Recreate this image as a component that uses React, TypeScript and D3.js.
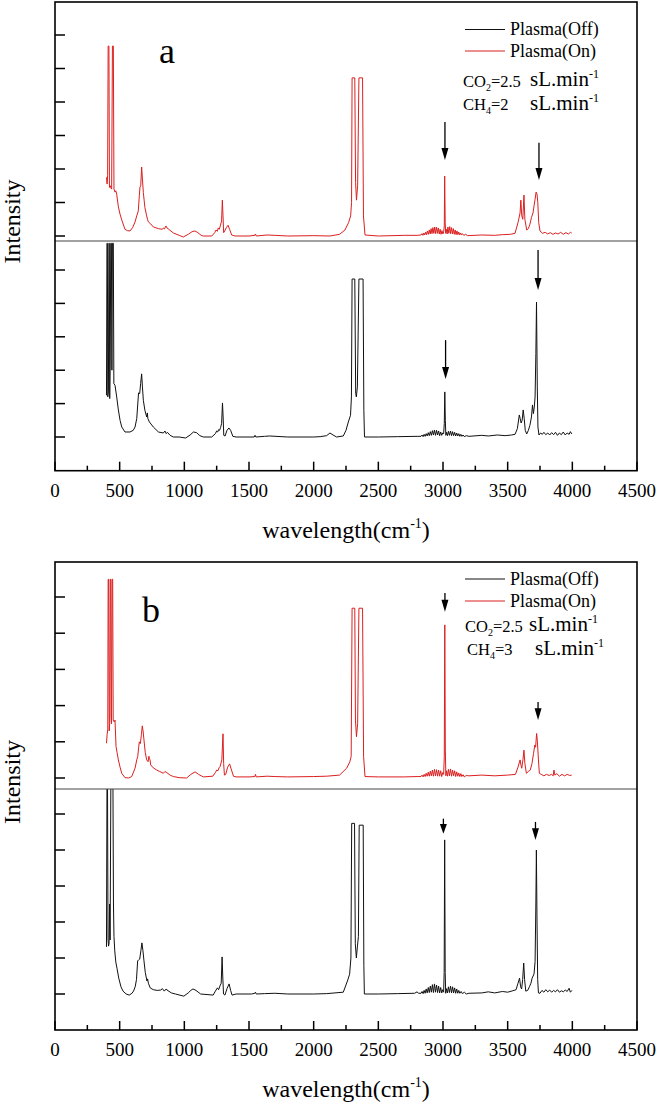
import React from 'react';
import * as d3 from 'd3';

type Pt = [number, number];
type Arrow = { x: number; from: number; to: number };

// x: wavenumber (cm-1), y: intensity in units of one y tick
const xMajor = [0, 500, 1000, 1500, 2000, 2500, 3000, 3500, 4000, 4500];
const xMinor = [250, 750, 1250, 1750, 2250, 2750, 3250, 3750, 4250];

// panel a, plasma on (red, upper)
const onA: Pt[] = [
  [398, 1.75], [403, 1.55], [407, 1.8], [411, 5.67], [417, 5.67], [421, 1.45], [428, 1.5], [433, 1.43], [438, 1.4],
  [444, 5.67], [451, 5.67], [456, 1.4], [464, 1.31], [470, 1.35], [477, 1.25], [490, 0.87], [503, 0.65], [516, 0.48],
  [541, 0.2], [560, 0.16], [580, 0.15], [600, 0.25], [619, 0.42], [632, 0.6], [644, 0.75], [652, 1.2], [657, 1.46],
  [663, 1.5], [670, 2.06], [676, 1.7], [683, 1.3], [695, 0.85], [709, 0.6], [715, 0.5], [722, 0.42], [740, 0.36],
  [760, 0.27], [800, 0.22], [830, 0.2], [838, 0.24], [846, 0.21], [858, 0.3], [866, 0.24], [880, 0.2], [915, 0.09],
  [960, 0.02], [992, -0.03], [1030, 0.05], [1060, 0.13], [1083, 0.15], [1105, 0.1], [1130, 0.02], [1147, 0.0],
  [1212, 0.0], [1235, 0.1], [1245, 0.18], [1255, 0.14], [1262, 0.24], [1270, 0.2], [1278, 0.3], [1288, 0.45],
  [1294, 1.07], [1299, 0.6], [1304, 0.1], [1312, 0.15], [1325, 0.25], [1338, 0.32], [1350, 0.2], [1366, 0.03],
  [1392, 0.0], [1500, 0.0], [1545, 0.02], [1550, 0.06], [1556, 0.0], [1640, 0.03], [1700, 0.02], [1800, 0.0],
  [2000, 0.01], [2126, 0.0], [2200, 0.05], [2242, 0.18], [2270, 0.4], [2286, 0.6], [2293, 1.0], [2297, 4.72],
  [2318, 4.72], [2324, 1.6], [2331, 1.07], [2340, 1.5], [2350, 4.72], [2378, 4.72], [2385, 0.6], [2397, 0.03],
  [2500, 0.0], [2700, 0.02], [2800, 0.02],
  [2830, 0.03], [2838, 0.07], [2845, 0.02], [2852, 0.09], [2859, 0.03], [2866, 0.12], [2873, 0.04], [2880, 0.15],
  [2887, 0.05], [2894, 0.18], [2901, 0.06], [2908, 0.22], [2915, 0.07], [2922, 0.25], [2929, 0.08], [2936, 0.27],
  [2943, 0.07], [2950, 0.26], [2957, 0.08], [2964, 0.24], [2971, 0.06], [2978, 0.2], [2985, 0.05], [2992, 0.16],
  [2999, 0.06], [3005, 0.12], [3010, 0.3], [3013, 1.79], [3017, 0.4], [3021, 0.08], [3026, 0.2], [3032, 0.06],
  [3038, 0.27], [3045, 0.08], [3052, 0.28], [3059, 0.07], [3066, 0.25], [3073, 0.06], [3080, 0.22], [3087, 0.05],
  [3094, 0.18], [3101, 0.04], [3108, 0.15], [3115, 0.04], [3122, 0.12], [3129, 0.03], [3136, 0.09], [3143, 0.03],
  [3150, 0.07], [3160, 0.02], [3175, 0.05], [3190, 0.01],
  [3300, 0.03], [3400, 0.02], [3460, 0.04], [3520, 0.05], [3557, 0.08], [3580, 0.4], [3596, 0.69], [3602, 1.07],
  [3609, 0.6], [3617, 0.5], [3626, 1.22], [3633, 0.5], [3647, 0.18], [3660, 0.22], [3672, 0.35], [3684, 0.55],
  [3696, 0.69], [3704, 0.9], [3712, 1.1], [3720, 1.31], [3727, 1.25], [3733, 1.0], [3740, 0.4], [3750, 0.15],
  [3770, 0.08], [3790, 0.11], [3810, 0.06], [3830, 0.1], [3850, 0.05], [3870, 0.09], [3890, 0.06], [3910, 0.11],
  [3930, 0.05], [3950, 0.1], [3970, 0.06], [3985, 0.11], [3995, 0.09],
];

// panel a, plasma off (black, lower)
const offA: Pt[] = [
  [398, 1.25], [402, 5.8], [405, 5.8], [408, 1.2], [413, 1.35], [417, 5.8], [420, 5.8], [423, 1.15], [427, 2.25],
  [431, 5.8], [436, 5.8], [440, 2.0], [444, 5.8], [451, 5.8], [455, 1.6], [464, 1.55], [477, 1.2], [490, 0.81],
  [503, 0.5], [516, 0.3], [541, 0.15], [580, 0.15], [605, 0.2], [619, 0.3], [632, 0.55], [646, 1.32], [655, 1.3],
  [662, 1.6], [670, 1.89], [676, 1.5], [683, 1.1], [695, 0.8], [709, 0.6], [714, 0.72], [718, 0.55], [730, 0.45],
  [760, 0.3], [800, 0.15], [838, 0.12], [850, 0.18], [860, 0.1], [869, 0.14], [890, 0.05], [915, 0.0], [960, 0.0],
  [1010, -0.03], [1045, 0.06], [1070, 0.15], [1095, 0.13], [1120, 0.04], [1147, 0.0], [1212, 0.0], [1240, 0.1],
  [1250, 0.18], [1258, 0.15], [1265, 0.22], [1272, 0.2], [1280, 0.28], [1288, 0.4], [1295, 1.02], [1300, 0.6],
  [1305, 0.05], [1315, 0.03], [1330, 0.2], [1345, 0.27], [1358, 0.2], [1375, 0.02], [1400, 0.0], [1540, 0.0],
  [1547, 0.05], [1553, 0.0], [1620, 0.02], [1660, 0.03], [1800, 0.0], [2000, 0.0], [2050, 0.01], [2100, 0.04],
  [2126, 0.12], [2150, 0.06], [2177, 0.0], [2229, 0.03], [2250, 0.2], [2268, 0.45], [2285, 0.65], [2292, 1.2],
  [2297, 4.73], [2318, 4.73], [2325, 1.3], [2330, 1.2], [2338, 1.5], [2350, 4.73], [2382, 4.73], [2388, 0.8],
  [2393, 0.0], [2500, 0.0], [2650, 0.01], [2800, 0.02],
  [2830, 0.02], [2838, 0.06], [2846, 0.01], [2854, 0.08], [2862, 0.02], [2870, 0.1], [2878, 0.03], [2886, 0.13],
  [2894, 0.04], [2902, 0.16], [2910, 0.05], [2918, 0.19], [2926, 0.06], [2934, 0.21], [2942, 0.05], [2950, 0.2],
  [2958, 0.06], [2966, 0.18], [2974, 0.04], [2982, 0.15], [2990, 0.05], [2998, 0.12], [3005, 0.1], [3010, 0.4],
  [3014, 1.35], [3018, 0.5], [3022, 0.05], [3028, 0.14], [3035, 0.04], [3042, 0.17], [3050, 0.05], [3058, 0.18],
  [3066, 0.04], [3074, 0.16], [3082, 0.04], [3090, 0.14], [3098, 0.03], [3106, 0.12], [3114, 0.03], [3122, 0.1],
  [3130, 0.02], [3138, 0.08], [3146, 0.02], [3155, 0.06], [3165, 0.01], [3180, 0.04],
  [3200, 0.02], [3300, 0.05], [3350, 0.03], [3420, 0.06], [3480, 0.04], [3530, 0.06], [3557, 0.08], [3575, 0.25],
  [3590, 0.66], [3597, 0.55], [3604, 0.42], [3612, 0.5], [3620, 0.81], [3628, 0.55], [3636, 0.2], [3647, 0.09],
  [3660, 0.2], [3672, 0.35], [3684, 0.6], [3692, 0.96], [3699, 0.7], [3706, 0.9], [3712, 1.2], [3718, 2.5],
  [3723, 4.04], [3729, 1.5], [3734, 0.3], [3742, 0.06], [3755, 0.12], [3768, 0.08], [3780, 0.14], [3795, 0.07],
  [3810, 0.12], [3825, 0.06], [3840, 0.13], [3855, 0.07], [3870, 0.14], [3885, 0.05], [3900, 0.12], [3915, 0.07],
  [3930, 0.15], [3945, 0.06], [3960, 0.12], [3975, 0.08], [3985, 0.16], [3995, 0.09],
];

// panel b, plasma on (red, upper)
const onB: Pt[] = [
  [398, 0.96], [403, 1.2], [408, 1.35], [411, 5.49], [415, 5.49], [419, 1.3], [423, 1.51], [427, 5.49], [431, 5.49],
  [434, 1.69], [437, 1.5], [441, 5.49], [446, 5.49], [450, 1.6], [458, 1.55], [464, 1.6], [472, 0.87], [480, 0.7],
  [490, 0.5], [503, 0.3], [516, 0.13], [541, 0.01], [570, 0.0], [593, 0.04], [619, 0.27], [632, 0.5], [640, 0.6],
  [647, 0.85], [652, 1.0], [660, 0.95], [668, 1.2], [675, 1.44], [681, 1.3], [688, 1.05], [698, 0.7], [709, 0.5],
  [720, 0.45], [726, 0.6], [730, 0.54], [735, 0.5], [740, 0.36], [760, 0.28], [786, 0.22], [810, 0.18], [838, 0.13],
  [850, 0.18], [864, 0.15], [890, 0.08], [915, 0.04], [960, 0.01], [1018, 0.0], [1050, 0.1], [1083, 0.17],
  [1110, 0.1], [1147, 0.03], [1220, 0.05], [1240, 0.15], [1250, 0.22], [1260, 0.2], [1268, 0.28], [1276, 0.31],
  [1290, 0.5], [1299, 1.22], [1304, 0.4], [1310, 0.08], [1320, 0.1], [1335, 0.3], [1350, 0.39], [1362, 0.25],
  [1380, 0.05], [1400, 0.03], [1500, 0.03], [1545, 0.04], [1550, 0.1], [1556, 0.03], [1640, 0.05], [1700, 0.04],
  [1800, 0.03], [2000, 0.04], [2100, 0.05], [2200, 0.08], [2255, 0.27], [2280, 0.45], [2290, 0.6], [2297, 4.69],
  [2318, 4.69], [2323, 1.6], [2331, 1.14], [2340, 1.5], [2350, 4.69], [2378, 4.69], [2386, 0.6], [2397, 0.04],
  [2500, 0.03], [2700, 0.03], [2800, 0.04],
  [2830, 0.04], [2838, 0.08], [2846, 0.03], [2854, 0.1], [2862, 0.04], [2870, 0.13], [2878, 0.05], [2886, 0.16],
  [2894, 0.05], [2902, 0.19], [2910, 0.06], [2918, 0.22], [2926, 0.05], [2934, 0.24], [2942, 0.06], [2950, 0.23],
  [2958, 0.05], [2966, 0.22], [2974, 0.05], [2982, 0.2], [2990, 0.04], [2998, 0.15], [3005, 0.1], [3010, 0.6],
  [3014, 4.23], [3018, 0.8], [3022, 0.06], [3028, 0.2], [3035, 0.05], [3042, 0.24], [3050, 0.06], [3058, 0.25],
  [3066, 0.05], [3074, 0.22], [3082, 0.06], [3090, 0.2], [3098, 0.04], [3106, 0.17], [3114, 0.05], [3122, 0.14],
  [3130, 0.04], [3138, 0.12], [3146, 0.04], [3155, 0.09], [3165, 0.03], [3180, 0.07],
  [3200, 0.06], [3300, 0.08], [3400, 0.06], [3500, 0.08], [3560, 0.1], [3580, 0.3], [3596, 0.5], [3603, 0.35],
  [3609, 0.27], [3618, 0.5], [3626, 0.77], [3633, 0.4], [3645, 0.13], [3660, 0.18], [3675, 0.22], [3688, 0.4],
  [3700, 0.68], [3710, 0.91], [3716, 0.85], [3724, 1.23], [3730, 1.0], [3738, 0.5], [3745, 0.13], [3760, 0.1],
  [3780, 0.06], [3800, 0.1], [3820, 0.07], [3840, 0.1], [3852, 0.06], [3858, 0.22], [3865, 0.08], [3880, 0.12],
  [3900, 0.05], [3920, 0.1], [3940, 0.06], [3960, 0.1], [3980, 0.07], [3995, 0.08],
];

// panel b, plasma off (black, lower)
const offB: Pt[] = [
  [398, 1.31], [402, 5.9], [406, 5.9], [410, 1.53], [414, 1.33], [418, 1.4], [422, 2.5], [426, 1.5], [432, 5.9],
  [448, 5.9], [452, 2.5], [456, 1.6], [462, 1.2], [470, 0.89], [480, 0.7], [493, 0.44], [510, 0.2], [526, 0.08],
  [550, 0.0], [574, -0.03], [595, 0.02], [607, 0.08], [620, 0.2], [630, 0.4], [639, 0.92], [647, 0.95], [655, 0.97],
  [664, 1.2], [672, 1.42], [680, 1.2], [688, 0.92], [698, 0.6], [711, 0.36], [716, 0.42], [722, 0.3], [736, 0.17],
  [760, 0.12], [790, 0.1], [818, 0.11], [830, 0.15], [845, 0.08], [860, 0.14], [866, 0.11], [900, 0.03], [931, 0.0],
  [996, -0.06], [1030, 0.03], [1050, 0.1], [1067, 0.14], [1090, 0.1], [1126, 0.0], [1223, -0.03], [1240, 0.08],
  [1256, 0.17], [1265, 0.12], [1275, 0.22], [1285, 0.3], [1292, 1.03], [1297, 0.5], [1303, 0.0], [1314, -0.03],
  [1330, 0.15], [1346, 0.28], [1358, 0.1], [1369, -0.03], [1400, 0.0], [1520, 0.0], [1545, 0.02], [1550, 0.05],
  [1556, 0.0], [1620, 0.01], [1700, 0.02], [1800, 0.0], [2000, 0.0], [2100, 0.01], [2229, 0.05], [2261, 0.36],
  [2278, 0.55], [2288, 1.0], [2294, 4.74], [2316, 4.74], [2322, 1.4], [2330, 1.0], [2338, 1.31], [2346, 1.6],
  [2352, 4.69], [2383, 4.69], [2388, 0.8], [2392, 0.0], [2500, 0.0], [2650, 0.01], [2780, 0.02], [2800, 0.06],
  [2810, 0.02],
  [2830, 0.02], [2838, 0.07], [2846, 0.01], [2854, 0.1], [2862, 0.02], [2870, 0.14], [2878, 0.03], [2886, 0.18],
  [2894, 0.04], [2902, 0.22], [2910, 0.05], [2918, 0.26], [2926, 0.04], [2934, 0.28], [2942, 0.05], [2950, 0.25],
  [2958, 0.04], [2966, 0.22], [2974, 0.03], [2982, 0.18], [2990, 0.03], [2998, 0.12], [3005, 0.05], [3009, 0.6],
  [3013, 4.28], [3017, 0.6], [3021, 0.02], [3028, 0.15], [3035, 0.03], [3042, 0.2], [3050, 0.04], [3058, 0.22],
  [3066, 0.03], [3074, 0.2], [3082, 0.03], [3090, 0.17], [3098, 0.02], [3106, 0.14], [3114, 0.02], [3122, 0.1],
  [3130, 0.02], [3140, 0.07], [3150, 0.01], [3165, 0.05], [3180, 0.0],
  [3200, 0.02], [3300, 0.03], [3350, 0.06], [3400, 0.03], [3460, 0.07], [3500, 0.05], [3540, 0.09], [3565, 0.12],
  [3580, 0.3], [3592, 0.44], [3600, 0.2], [3608, 0.14], [3616, 0.4], [3624, 0.86], [3631, 0.4], [3640, 0.08],
  [3655, 0.1], [3668, 0.2], [3680, 0.3], [3689, 0.44], [3697, 0.5], [3704, 0.56], [3712, 0.9], [3718, 2.5],
  [3722, 4.0], [3727, 2.0], [3732, 0.4], [3738, 0.03], [3750, 0.02], [3765, 0.1], [3780, 0.05], [3795, 0.12],
  [3810, 0.06], [3825, 0.11], [3840, 0.05], [3855, 0.1], [3870, 0.06], [3885, 0.12], [3900, 0.05], [3915, 0.09],
  [3930, 0.06], [3945, 0.11], [3960, 0.07], [3975, 0.16], [3985, 0.05], [3997, 0.1],
];

// arrow annotations (x in cm-1, from/to in y units of their sub-plot)
const arrowsOnA: Arrow[] = [{ x: 3015, from: 3.4, to: 2.27 }, { x: 3742, from: 2.78, to: 1.67 }];
const arrowsOffA: Arrow[] = [{ x: 3020, from: 2.9, to: 1.74 }, { x: 3735, from: 5.6, to: 4.4 }];
const arrowsOnB: Arrow[] = [{ x: 3015, from: 5.11, to: 4.59 }, { x: 3735, from: 2.1, to: 1.6 }];
const arrowsOffB: Arrow[] = [{ x: 3003, from: 4.87, to: 4.45 }, { x: 3715, from: 4.78, to: 4.28 }];

const legendNames = ['Plasma(Off)', 'Plasma(On)'];
const co2Flow = '2.5';
const ch4Flows = ['2', '3'];

const RED = '#dc1f1f';
const FONT = '"Liberation Serif", "Times New Roman", serif';
const X0 = 55;
const X1 = 637;

const xScale = d3.scaleLinear().domain([0, 4500]).range([X0, X1]);

const panels = [
  {
    key: 'a', on: onA, off: offA, arrowsOn: arrowsOnA, arrowsOff: arrowsOffA, ch4: ch4Flows[0],
    top: 2, mid: 241, bottom: 470.7,
    up: { base: 236, tick: 35, max: 6 }, low: { base: 437, tick: 270, max: 5 },
    label: { x: 159, y: 63 }, leg: { y0: 29.5, y1: 51, t0: 34.5, t1: 57 },
    gas: { x1: 463, x2: 463, u1: 530, u2: 530, y1: 87, y2: 110, uy1: 86, uy2: 110 },
    ylab: 221.5,
  },
  {
    key: 'b', on: onB, off: offB, arrowsOn: arrowsOnB, arrowsOff: arrowsOffB, ch4: ch4Flows[1],
    top: 562, mid: 789, bottom: 1030,
    up: { base: 778, tick: 597, max: 5 }, low: { base: 994, tick: 814, max: 5 },
    label: { x: 142, y: 622 }, leg: { y0: 579, y1: 601, t0: 585, t1: 607 },
    gas: { x1: 465, x2: 467, u1: 529, u2: 535, y1: 632, y2: 655, uy1: 631, uy2: 655 },
    ylab: 782,
  },
];

function Arrows({ items, y }: { items: Arrow[]; y: d3.ScaleLinear<number, number> }) {
  return (
    <g>
      {items.map((a, i) => {
        const x = xScale(a.x);
        const y0 = y(a.from);
        const y1 = y(a.to);
        const head = Math.min(12, (y1 - y0) * 0.65);
        return (
          <g key={i}>
            <line x1={x} x2={x} y1={y0} y2={y1 - head + 1} stroke="#000" strokeWidth={1.3} />
            <path d={`M${x - 3.5},${y1 - head}L${x + 3.5},${y1 - head}L${x},${y1}Z`} fill="#000" />
          </g>
        );
      })}
    </g>
  );
}

function Panel({ p }: { p: (typeof panels)[number] }) {
  const yUp = d3.scaleLinear().domain([0, p.up.max]).range([p.up.base, p.up.tick]);
  const yLow = d3.scaleLinear().domain([0, p.low.max]).range([p.low.base, p.low.tick]);
  const lineUp = d3.line<Pt>().x((d) => xScale(d[0])).y((d) => yUp(d[1]));
  const lineLow = d3.line<Pt>().x((d) => xScale(d[0])).y((d) => yLow(d[1]));
  const axisY = p.bottom;

  return (
    <g>
      <defs>
        <clipPath id={`clip-up-${p.key}`}>
          <rect x={X0} y={p.top} width={X1 - X0} height={p.mid - p.top} />
        </clipPath>
        <clipPath id={`clip-low-${p.key}`}>
          <rect x={X0} y={p.mid} width={X1 - X0} height={p.bottom - p.mid} />
        </clipPath>
      </defs>

      <path d={lineUp(p.on) || ''} fill="none" stroke={RED} strokeWidth={1} clipPath={`url(#clip-up-${p.key})`} />
      <path d={lineLow(p.off) || ''} fill="none" stroke="#111" strokeWidth={1} clipPath={`url(#clip-low-${p.key})`} />

      <Arrows items={p.arrowsOn} y={yUp} />
      <Arrows items={p.arrowsOff} y={yLow} />

      {/* y ticks, inward, no labels */}
      {yUp.ticks(p.up.max).map((t) => (
        <line key={`u${t}`} x1={X0} x2={X0 + 10} y1={yUp(t)} y2={yUp(t)} stroke="#000" strokeWidth={1.5} />
      ))}
      {yLow.ticks(p.low.max).map((t) => (
        <line key={`l${t}`} x1={X0} x2={X0 + 10} y1={yLow(t)} y2={yLow(t)} stroke="#000" strokeWidth={1.5} />
      ))}

      {/* x ticks */}
      {xMajor.map((t) => (
        <line key={`M${t}`} x1={xScale(t)} x2={xScale(t)} y1={axisY} y2={axisY - 9} stroke="#000" strokeWidth={1.5} />
      ))}
      {xMinor.map((t) => (
        <line key={`m${t}`} x1={xScale(t)} x2={xScale(t)} y1={axisY} y2={axisY - 5} stroke="#000" strokeWidth={1.5} />
      ))}
      {xMajor.map((t) => (
        <text key={`t${t}`} x={xScale(t)} y={axisY + 26} textAnchor="middle" fontSize={19} fontFamily={FONT}>
          {t}
        </text>
      ))}

      {/* frame and divider */}
      <line x1={X0} x2={X1} y1={p.mid} y2={p.mid} stroke="#444" strokeWidth={1} />
      <rect x={X0} y={p.top} width={X1 - X0} height={p.bottom - p.top} fill="none" stroke="#000" strokeWidth={1.6} />

      <text x={(X0 + X1) / 2} y={axisY + 67} textAnchor="middle" fontSize={24} fontFamily={FONT}>
        wavelength(cm<tspan dy={-10} fontSize={14}>-1</tspan>
        <tspan dy={10}>)</tspan>
      </text>
      <text
        x={20}
        y={p.ylab}
        transform={`rotate(-90, 20, ${p.ylab})`}
        textAnchor="middle"
        fontSize={24}
        fontFamily={FONT}
      >
        Intensity
      </text>

      <text x={p.label.x} y={p.label.y} fontSize={36} fontFamily={FONT}>
        {p.key}
      </text>

      {/* legend */}
      <line x1={465} x2={505} y1={p.leg.y0} y2={p.leg.y0} stroke="#111" strokeWidth={1} />
      <line x1={465} x2={505} y1={p.leg.y1} y2={p.leg.y1} stroke={RED} strokeWidth={1} />
      <text x={510} y={p.leg.t0} fontSize={18} fontFamily={FONT}>{legendNames[0]}</text>
      <text x={510} y={p.leg.t1} fontSize={18} fontFamily={FONT}>{legendNames[1]}</text>

      <text x={p.gas.x1} y={p.gas.y1} fontSize={16.5} fontFamily={FONT}>
        CO<tspan dy={4} fontSize={10}>2</tspan>
        <tspan dy={-4}>={co2Flow}</tspan>
      </text>
      <text x={p.gas.u1} y={p.gas.uy1} fontSize={21} fontFamily={FONT}>
        sL.min<tspan dy={-8} fontSize={12}>-1</tspan>
      </text>
      <text x={p.gas.x2} y={p.gas.y2} fontSize={16.5} fontFamily={FONT}>
        CH<tspan dy={4} fontSize={10}>4</tspan>
        <tspan dy={-4}>={p.ch4}</tspan>
      </text>
      <text x={p.gas.u2} y={p.gas.uy2} fontSize={21} fontFamily={FONT}>
        sL.min<tspan dy={-8} fontSize={12}>-1</tspan>
      </text>
    </g>
  );
}

export default function App() {
  return (
    <svg
      width={657}
      height={1103}
      style={{ position: 'absolute', left: 0, top: 0, background: '#fff' }}
    >
      {panels.map((p) => (
        <Panel key={p.key} p={p} />
      ))}
    </svg>
  );
}
